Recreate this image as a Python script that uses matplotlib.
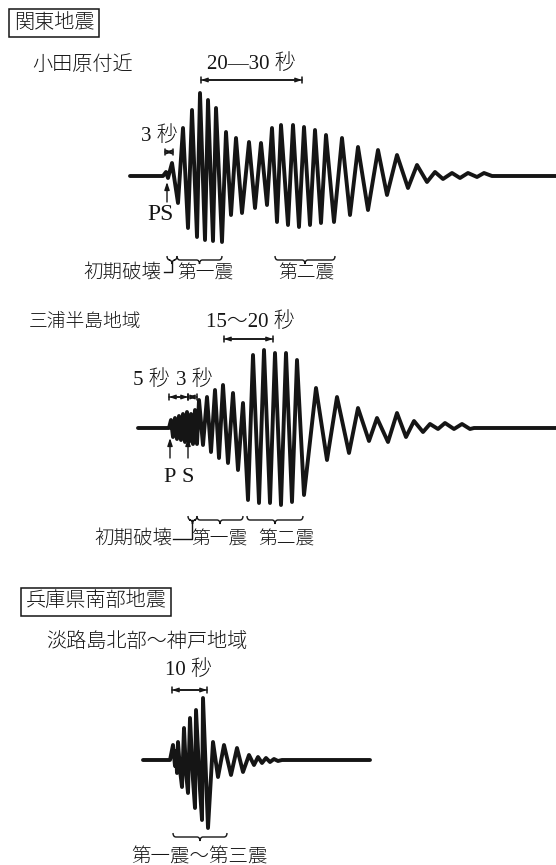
import numpy as np
import matplotlib.pyplot as plt
from matplotlib.path import Path
from matplotlib.patches import PathPatch

# seismogram sketches: turning points of each trace (time from trace start, amplitude)
# ------------------------------------------------------------------------------

# 関東地震 / 小田原付近
odawara_t = [0, 33, 36, 38, 42, 48, 53, 58, 62, 67, 70, 75, 78, 83, 86, 92, 96, 101, 106, 112,
             119, 125, 131, 137, 142, 147, 151, 158, 163, 169, 174, 180, 185, 191, 196, 204,
             212, 220, 228, 238, 248, 257, 267, 278, 287, 297, 305, 313, 322, 330, 338, 347,
             354, 362, 426]
odawara_a = [0, 0, 4, -2, 13, -27, 48, -52, 66, -61, 83, -64, 76, -65, 68, -66, 44, -39, 38, -37,
             34, -32, 33, -29, 48, -46, 51, -49, 51, -51, 49, -49, 46, -47, 41, -46,
             38, -39, 29, -34, 26, -19, 21, -12, 11, -6, 4, -3, 3, -2, 3, -1,
             3, 0, 0]

# 関東地震 / 三浦半島地域
miura_t = [0, 31, 33, 35, 37, 39, 41, 43, 45, 47, 49, 51, 53, 55, 57, 59, 61, 65, 69, 73,
           77, 81, 85, 90, 95, 100, 105, 110, 115, 121, 126, 132, 137, 143, 148, 154, 159,
           166, 178, 189, 199, 211, 220, 231, 239, 250, 259, 268, 276, 285, 292, 300, 307,
           316, 324, 332, 336, 418]
miura_a = [0, 0, 8, -9, 10, -11, 12, -12, 14, -14, 16, -14, 14, -16, 18, -16, 28, -17, 31, -24,
           38, -30, 43, -35, 35, -42, 25, -72, 73, -75, 78, -75, 75, -77, 75, -74, 68,
           -67, 40, -32, 31, -25, 20, -13, 10, -14, 15, -9, 7, -4, 4, -1, 5,
           -1, 4, -1, 0, 0]

# 兵庫県南部地震 / 淡路島北部～神戸地域
kobe_t = [0, 27, 30, 32, 33, 34, 35, 37, 39, 41, 43, 45, 47, 50, 52, 53, 57, 59, 60, 65,
          70, 75, 81, 88, 94, 100, 106, 111, 115, 119, 123, 127, 131, 135, 139, 227]
kobe_a = [0, 0, 15, -6, 9, -13, 18, -10, -27, 32, -12, -33, 42, -20, -48, 50, -30, -60, 62, -68,
          18, -17, 15, -15, 12, -12, 5, -5, 3, -3, 2, -2, 1, -1, 0, 0]

FONT = ['Liberation Serif', 'Noto Sans CJK JP']
W, H = 556, 865
INK = '#151515'

fig = plt.figure(figsize=(W / 100, H / 100), dpi=100)
fig.patch.set_facecolor('white')


def trace_axes(top, bottom, x0, base):
    # one axes per trace, 1 data unit = 1 pixel, origin at trace start / baseline
    ax = fig.add_axes([0, 1 - bottom / H, 1, (bottom - top) / H])
    ax.set_xlim(-x0, W - x0)
    ax.set_ylim(base - bottom, base - top)
    ax.axis('off')
    return ax


def label(ax, x, y, s, size=14, ha='center', box=False):
    kw = dict(ha=ha, va='center', fontsize=size, family=FONT, color=INK, fontweight='light')
    if box:
        kw['bbox'] = dict(boxstyle='square,pad=0.22', fc='white', ec=INK, lw=1.1)
    ax.text(x, y, s, **kw)


def span(ax, x1, x2, y, bars=True):
    ax.annotate('', xy=(x2, y), xytext=(x1, y),
                arrowprops=dict(arrowstyle='<->,head_length=0.35,head_width=0.12',
                                lw=1.1, color=INK, shrinkA=0, shrinkB=0))
    if bars:
        ax.annotate('', xy=(x2, y), xytext=(x1, y),
                    arrowprops=dict(arrowstyle='|-|,widthA=0.25,widthB=0.25',
                                    lw=1.1, color=INK, shrinkA=0, shrinkB=0))


def brace(ax, x1, x2, y, h=8, r=3):
    xm = (x1 + x2) / 2
    ym = y - h / 2
    verts = [(x1, y), (x1, ym), (x1 + r, ym), (xm - r, ym), (xm, ym), (xm, y - h),
             (xm, ym), (xm + r, ym), (x2 - r, ym), (x2, ym), (x2, y)]
    codes = [Path.MOVETO, Path.CURVE3, Path.CURVE3, Path.LINETO, Path.CURVE3, Path.CURVE3,
             Path.CURVE3, Path.CURVE3, Path.LINETO, Path.CURVE3, Path.CURVE3]
    ax.add_patch(PathPatch(Path(verts, codes), fc='none', ec=INK, lw=1.0))


def up_arrow(ax, x, y1, y2):
    ax.annotate('', xy=(x, y2), xytext=(x, y1),
                arrowprops=dict(arrowstyle='-|>,head_length=0.45,head_width=0.15',
                                lw=1.0, color=INK, shrinkA=0, shrinkB=0))


wave_kw = dict(color=INK, lw=2.8, solid_joinstyle='round', solid_capstyle='round')

# 関東地震 - 小田原付近
ax1 = trace_axes(0, 295, 130, 176)
ax1.plot(odawara_t, odawara_a, **wave_kw)
label(ax1, -76, 153, '関東地震', size=14.5, box=True)
label(ax1, -47, 111, '小田原付近', size=14.5)
label(ax1, 121, 112, '20—30 秒', size=15)
span(ax1, 71, 172, 96)
label(ax1, 29, 40, '3 秒', size=15)
span(ax1, 35, 43, 24)
up_arrow(ax1, 37, -26, -6)
label(ax1, 31, -38, 'PS', size=17)
brace(ax1, 37, 47, -80)
brace(ax1, 47, 92, -80)
brace(ax1, 145, 205, -80)
ax1.plot([34, 42, 42], [-96, -96, -86], color=INK, lw=1.0)
label(ax1, 31, -98, '初期破壊', size=14, ha='right')
label(ax1, 75, -98, '第一震', size=13.5)
label(ax1, 176, -98, '第二震', size=13.5)

# 関東地震 - 三浦半島地域
ax2 = trace_axes(295, 560, 138, 428)
ax2.plot(miura_t, miura_a, **wave_kw)
label(ax2, -53, 106, '三浦半島地域', size=13.5)
label(ax2, 112, 106, '15～20 秒', size=15)
span(ax2, 86, 135, 89)
label(ax2, 13, 48, '5 秒', size=15)
label(ax2, 56, 48, '3 秒', size=15)
span(ax2, 31, 50, 31)
span(ax2, 50, 59, 31)
up_arrow(ax2, 32, -30, -10)
up_arrow(ax2, 50, -30, -10)
label(ax2, 32, -50, 'P', size=16)
label(ax2, 50, -50, 'S', size=16)
brace(ax2, 50, 59, -88)
brace(ax2, 59, 105, -88)
brace(ax2, 109, 165, -88)
ax2.plot([35, 54, 54], [-111, -111, -92], color=INK, lw=1.0)
label(ax2, 34, -112, '初期破壊', size=14, ha='right')
label(ax2, 81, -112, '第一震', size=13.5)
label(ax2, 148, -112, '第二震', size=13.5)

# 兵庫県南部地震 - 淡路島北部～神戸地域
ax3 = trace_axes(560, 865, 143, 760)
ax3.plot(kobe_t, kobe_a, **wave_kw)
label(ax3, -47, 158, '兵庫県南部地震', size=14.5, box=True)
label(ax3, 4, 118, '淡路島北部～神戸地域', size=14.5)
label(ax3, 45, 90, '10 秒', size=15)
span(ax3, 29, 64, 70)
brace(ax3, 30, 84, -73)
label(ax3, 56, -97, '第一震～第三震', size=14)

fig.savefig('out.png', dpi=100, facecolor='white')
